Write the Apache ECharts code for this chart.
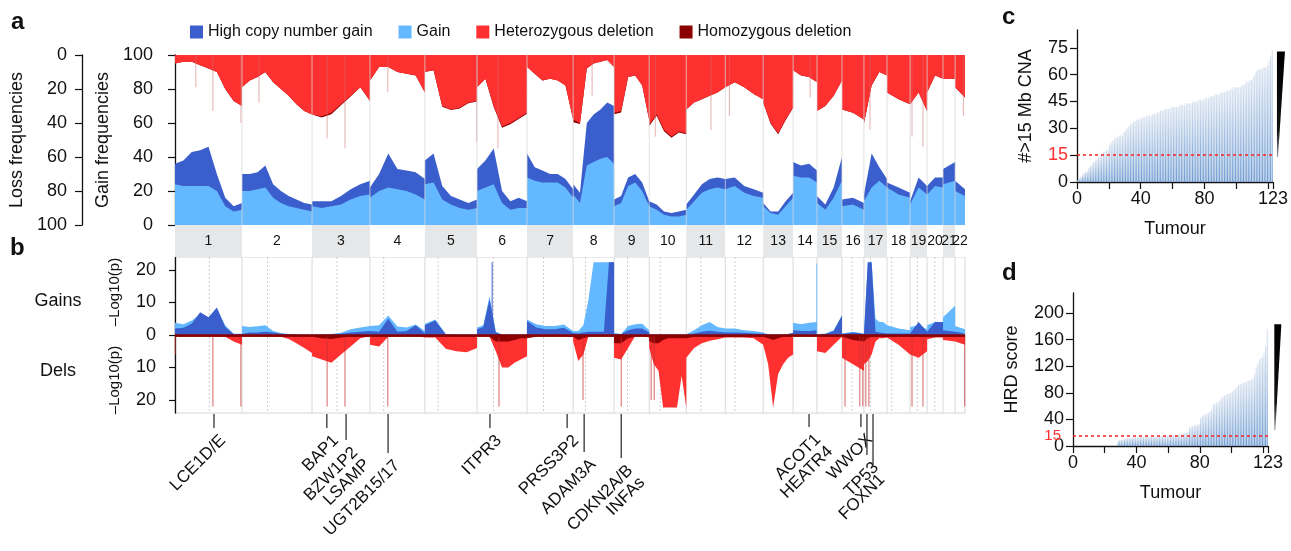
<!DOCTYPE html>
<html><head><meta charset="utf-8">
<script src="https://cdn.jsdelivr.net/npm/echarts@6/dist/echarts.min.js"></script>
<style>html,body{margin:0;padding:0;background:#fff}#c{width:1291px;height:551px}</style>
</head><body><div id="c"></div>
<script>
const FONT = '"Liberation Sans", Arial, Helvetica, sans-serif';
const chromosomes = ['1','2','3','4','5','6','7','8','9','10','11','12','13','14','15','16','17','18','19','20','21','22'];
const chrLen = [244,255,211,200,190,182,168,149,128,135,142,138,109,87,91,80,84,84,62,58,44,36];
const centromere = [125,93,91,50,48,60,60,45,49,40,53,35,null,null,null,36,24,17,26.5,28,null,null];

// ---- panel a: frequencies (%) per chromosome, evenly spaced along each chromosome
// top edge of light-blue (gain) and of dark-blue (all gains incl. high copy number gain)
const gainFreq = [[24,23,23,23,23,20,11,8,9],[20,20,21,22,16,13,11,10,9,8],[11,10,11,12,15,17,18],[16,20,22,21,20,18,15],[24,25,15,12,10,9,10],[20,22,24,13,9,10,10],[28,26,25,25,25,22,16],[18,13,35,37,39,40,36],[11,13,23,25,20,11],[11,9,6,5,5,6],[9,14,19,21,22,21],[21,23,19,17,16],[11,7,6,11,16],[29,28,28,25],[13,9,16,26],[11,12,9],[14,22,26,22],[21,18,16],[12,22,18],[17,23,22],[24,26],[20,17]];
const allGainFreq = [[36,38,43,44,46,30,16,11,13],[30,30,31,35,24,20,17,15,13,12],[14,14,14,17,21,24,26],[22,30,42,33,32,31,27],[38,42,23,17,15,13,15],[33,38,45,20,14,16,14],[42,34,32,30,30,27,21],[24,19,60,65,68,72,70],[15,17,28,30,25,14],[13,12,8,7,8,9],[12,18,24,27,28,27],[27,28,23,21,19],[13,8,8,14,19],[37,35,36,32],[17,12,22,40],[15,16,13],[18,42,34,27],[25,22,19],[14,28,23],[23,28,28],[33,37],[26,21]];
// bottom edge of red (heterozygous) and of dark red (all losses incl. homozygous deletion), loss axis counted from top
const hetDelFreq = [[5,4,4,6,8,10,20,27,30],[19,15,13,10,16,20,24,29,33,35],[34,36,34,29,24,19,27],[15,7,7,10,11,12,22],[10,9,30,32,31,28,27],[19,14,30,42,40,37,34],[7,11,15,14,15,18,38],[39,40,8,5,4,3,7],[34,33,13,12,18,38],[41,35,44,48,45,46],[32,28,26,24,22,19],[19,16,19,23,26],[28,40,46,38,31],[9,12,13,16],[33,30,24,15],[32,34,38],[40,18,10,12],[22,26,29],[30,22,33],[22,12,14],[13,14],[19,25]];
const allLossFreq = [[5,4,4,6,8,10,20,27,30],[19,15,13,10,16,20,24,29,33,35],[34.8,36.8,34.8,29.6,24.4,19,27],[15,7,7,10,11,12,22],[10,9,30.4,32.4,31.4,28.4,27.4],[19,14,30.6,42.8,40.8,37.6,34.5],[7,11,15,14,15,18,38],[39.6,40.6,8,5,4,3,7],[34.8,33.8,13,12,18,38.6],[41.8,35.8,44.8,48.7,45.6,46.6],[32,28,26,24,22,19],[19,16,19,23,26],[28,40.4,46.6,38.4,31],[9,12,13,16],[33,30,24,15],[32,34,38],[40.5,18,10,12],[22,26,29],[30,22,33],[22,12,14],[13,14],[19,25]];
// narrow loss peaks (faint lines in panel a): chromosome, Mb, loss %
const lossPeakChr = [1,1,1,2,3,3,4,5,6,8,10,11,12,14,17,19,19,22];
const lossPeakMb = [76,138,240,62,55,120,65,189,76,69,22,90,15,62,22,7,47,30];
const lossPeakPct = [19,33,40,28,49,55,22,51,55,24,48,44,36,25,44,48,54,36];

// ---- panel b: -log10(p)
const gainSig = [[3.8,3.3,4.5,6.5,5.5,8,3,0.4,0.4],[2.8,2.5,2.7,3,1.2,0.6,0.3,0.2,0.2,0.2],[0.2,0.2,0.3,0.7,1.8,2.3,2.8],[2.8,3,6,2.6,2.3,3.2,1.2],[3.5,4.8,0.3,0.2,0.2,0.2],[2.3,3,12,1,0.2,0.2,0.2,0.2,0.2],[4.8,3.3,2.8,2.8,3.2,1.2],[0.8,1.2,3,11,22.4,22.4,22.4,22.4,22.4],[0.7,0.3,2.8,3.3,3.5,1.5],[0.2,0.2,0.2,0.2,0.2,0.2,0.2,0.2,0.2],[0.2,1.5,3,4,2.5,2],[1.8,2,1.5,1.2,0.8],[0.2,0.2,0.2,0.2,0.2,0.3,0.7],[3.8,3.3,3.8,4],[0.2,0.5,1.5,6],[0.5,1,0.5],[0.5,22.4,22.4,5,4,4,3],[3,2,1.5],[2.5,3,1.8],[3,4,4],[5.5,9],[2.8,1.8]];
const highGainSig = [[2,2.2,3.5,7,5.5,8.5,2.5,0.3,0.3],[0.8,0.8,0.8,1,0.8,0.4,0.2,0.1,0.1,0.1],[0.1,0.1,0.2,0.4,0.8,1,1.2],[0.8,1,5,1,1.2,3,0.5],[3,4.5,0.2,0.1,0.1,0.1],[1.8,2.5,11,0.8,0.1,0.1,0.1,0.1,0.1],[4.3,2.3,1.8,1.8,2.2,0.6],[0.3,0.5,0.8,1,1,1,1,22.4,22.4],[0.3,0.2,1.5,2,2,0.8],[0.1,0.1,0.1,0.1,0.1,0.1,0.1,0.1,0.1],[0.1,0.5,1,1.3,1,0.8],[0.8,0.8,0.7,0.5,0.4],[0.1,0.1,0.1,0.1,0.1,0.3,0.6],[1.5,1.2,1.2,1.5],[0.1,0.3,1.2,6],[0.3,0.8,0.3],[0.3,22.4,22.4,1,0.8,0.6,0.5],[0.5,0.5,0.5],[1,4,1],[1.5,4,4],[1.5,1],[0.8,0.5]];
const delSig = [[0.3,0.3,0.3,0.3,0.3,0.3,0.5,2,3],[0.3,0.3,0.3,0.3,0.3,0.5,1.2,2.5,4,5.5],[6.5,7.5,8.5,6,3.5,1,0.4],[3,3.5,0.5,0.3,0.3,0.3,0.8],[0.3,0.8,4.2,5,5.3,4],[0.3,0.3,0.5,5,10,10,8.5,7.5,6.5],[0.3,0.3,0.3,0.3,0.3,0.5],[2,8,6,0.3,0.3,0.3,0.3,0.3,0.3],[7,7.5,4,0.3,0.3,0.8],[4,9,11,22.3,22.3,22.3,22.3,12.5,22.3],[7,4,2.5,1.8,1.3,0.8],[0.8,0.8,0.8,1,3],[3,9,22.3,12,9,7,6],[0.3,0.3,0.3,0.5],[5,5.5,3,0.5],[7,9,11],[9,8,6,2,1,1,0.8],[1.3,3,6],[6,7,5],[1.3,0.8,0.8],[1.5,2],[2,3]];
const homDelSig = [[0.5,0.5,0.5,0.5,0.5,0.5,0.5,0.5,0.5],[0.5,0.5,0.5,0.5,0.5,0.5,0.5,0.5,0.5,0.5],[1,1,1.2,0.8,0.5,0.5,0.5],[0.5,0.5,0.5,0.5,0.5,0.5,0.5],[0.5,0.5,0.5,0.5,0.5,0.5],[0.5,0.5,0.5,2,2,2,1.5,1,1],[0.5,0.5,0.5,0.5,0.5,0.5],[0.5,1.5,1,0.5,0.5,0.5,0.5,0.5,0.5],[2.5,2.5,1,0.5,0.5,0.5],[2,2.5,2.5,1.5,1,1,1,1,1],[1,0.5,0.5,0.5,0.5,0.5],[0.5,0.5,0.5,0.5,0.5],[0.5,1,1.5,1,0.5,0.5,0.5],[0.5,0.5,0.5,0.5],[0.5,0.5,0.5,0.5],[1,1.5,2],[2,1,0.5,0.5,0.5,0.5,0.5],[0.5,0.5,0.5],[0.5,0.5,0.5],[0.5,0.5,0.5],[0.5,0.5],[0.5,0.5]];
const delSpikeChr = [1,1,1,3,3,4,6,8,9,10,10,16,16,16,17,17,19,19,22];
const delSpikeMb = [1,138,240,55,120,65,80,36,26,7,18,11,65,76,7,18,7,47,35];
const delSpikeDepth = [6,22,22,22,22,22,22,20,22,20,20,22,22,22,22,22,22,22,22];
const gainSpikeChr = [6,14];
const gainSpikeMb = [55,86];
const gainSpikeVal = [22.4,22];
const gainSpikeHigh = [1,0]; // 1 = high copy number gain peak

// genes
const geneNames = ['LCE1D/E','BAP1','BZW1P2\nLSAMP','UGT2B15/17','ITPR3','PRSS3P2','ADAM3A','CDKN2A/B\nINFAs','ACOT1\nHEATR4','WWOX','TP53','FOXN1'];
const geneChr = [1,3,3,4,6,7,8,9,14,16,17,17];
const geneMb = [142,54,124,66,47,146,40,26,58,69,11,33];
const geneTick = [15,15,27,40,15,15,39,45,14,14,42,54]; // layout: tick lengths (px)

// ---- panels c, d (sorted per tumour)
const tumourCNA = [1,2,3,4,5,6,6,8,9,10,11,12,13,14,15,16,17,17,18,18,21,22,23,24,25,25,26,26,26,28,29,30,31,32,33,34,34,35,35,35,36,36,36,37,37,37,37,38,38,38,39,39,40,40,40,41,41,41,41,42,42,42,42,42,43,43,43,43,44,44,44,44,45,45,45,45,46,46,46,46,47,47,47,48,48,48,49,49,49,49,50,50,50,51,51,51,52,52,53,53,53,53,53,54,54,55,56,56,57,57,58,60,62,63,63,63,64,64,64,65,68,70,74];
const tumourHRD = [0,0,0,0,0,0,0,0,0,0,0,0,0,0,0,0,0,0,0,0,0,0,0,0,0,0,0,0,8,9,9,10,11,11,12,12,12,13,13,13,13,13,14,14,14,14,14,14,14,14,14,14,14,14,15,15,15,15,15,15,15,15,16,16,16,17,17,18,18,19,20,20,21,28,29,30,31,32,32,33,42,45,47,48,49,50,52,55,62,64,65,66,68,72,74,76,77,78,79,80,82,84,86,89,92,93,94,95,96,97,98,99,100,101,108,118,124,130,132,134,140,150,176];
const wedgeC = [125.5, 73, 14];
const wedgeD = [127, 183, 24];

const BLUE_D = '#3A5FCD', BLUE_L = '#63B8FF', RED = '#FF3030', DRED = '#8B0000';
const chrStart = []; let acc = 0; chrLen.forEach(l => { chrStart.push(acc); acc += l; }); const genomeLen = acc;
function track(arrs, sign) {
  const out = [];
  arrs.forEach((a, c) => { const n = a.length; a.forEach((v, i) => out.push([chrStart[c] + (n > 1 ? i * chrLen[c] / (n - 1) : chrLen[c] / 2), sign * v])); });
  return out;
}
function area(name, data, color, xi, yi, extra) {
  return Object.assign({type:'line', name, data, xAxisIndex:xi, yAxisIndex:yi, symbol:'none', showSymbol:false, color,
    itemStyle:{color}, lineStyle:{width:0, color}, areaStyle:{color, opacity:1}, animation:false, silent:true}, extra || {});
}
const txt = {color:'#111', fontFamily:FONT};
const axisCommon = {axisLine:{show:true, lineStyle:{color:'#111', width:1.3}}, axisTick:{show:true, length:7, lineStyle:{color:'#111', width:1.2}}, splitLine:{show:false}};
const boundaries = chrStart.slice(1);
const barGrad = () => new echarts.graphic.LinearGradient(0, 0, 0, 1, [{offset:0, color:'#d9e3f0'}, {offset:1, color:'#6d9ad1'}]);
const wedgeGrad = () => new echarts.graphic.LinearGradient(0, 0, 0, 1, [{offset:0, color:'#000'}, {offset:0.75, color:'#111'}, {offset:1, color:'#999'}]);

const chart = echarts.init(document.getElementById('c'), null, {renderer:'canvas'});
const option = {
  animation:false,
  textStyle:{fontFamily:FONT},
  legend:{left:185, top:19, itemWidth:13, itemHeight:13, itemGap:26, icon:'rect', selectedMode:false,
    textStyle:{fontSize:16, color:'#111', fontFamily:FONT}, data:['High copy number gain','Gain','Heterozygous deletion','Homozygous deletion']},
  grid:[
    {left:175, top:55, width:790, height:170},
    {left:175, top:225, width:790, height:32},
    {left:175, top:257, width:790, height:156, show:true, borderColor:'#d6d6d6', borderWidth:1},
    {left:1077, top:30, width:196, height:152},
    {left:1073, top:293, width:195, height:153}
  ],
  xAxis:[
    {gridIndex:0, type:'value', min:0, max:genomeLen, show:false},
    {gridIndex:1, type:'value', min:0, max:genomeLen, show:false},
    {gridIndex:2, type:'value', min:0, max:genomeLen, show:false},
    Object.assign({gridIndex:3, type:'value', min:0, max:123, interval:20, name:'Tumour', nameLocation:'middle', nameGap:38,
      nameTextStyle:Object.assign({fontSize:18}, txt),
      axisLabel:Object.assign({fontSize:18, margin:8, showMaxLabel:true, formatter:v => (v===0||v===40||v===80||v===123) ? String(v) : ''}, txt)}, axisCommon),
    Object.assign({gridIndex:4, type:'value', min:0, max:123, interval:20, name:'Tumour', nameLocation:'middle', nameGap:38,
      nameTextStyle:Object.assign({fontSize:18}, txt),
      axisLabel:Object.assign({fontSize:18, margin:8, showMaxLabel:true, formatter:v => (v===0||v===40||v===80||v===123) ? String(v) : ''}, txt)}, axisCommon)
  ],
  yAxis:[
    Object.assign({gridIndex:0, type:'value', min:0, max:100, interval:20, position:'left', offset:11, name:'Gain frequencies',
      nameLocation:'middle', nameGap:48, nameTextStyle:Object.assign({fontSize:18}, txt), axisLabel:Object.assign({fontSize:18, margin:11}, txt)}, axisCommon),
    Object.assign({gridIndex:0, type:'value', min:0, max:100, interval:20, inverse:true, position:'left', offset:93, name:'Loss frequencies',
      nameLocation:'middle', nameGap:52, nameTextStyle:Object.assign({fontSize:18}, txt), axisLabel:Object.assign({fontSize:18, margin:15}, txt)}, axisCommon),
    {gridIndex:1, type:'value', min:0, max:1, show:false},
    Object.assign({gridIndex:2, type:'value', min:-24, max:24, position:'left', offset:7,
      axisLabel:Object.assign({fontSize:18, margin:12, customValues:[-20,-10,0,10,20], formatter:v => String(Math.abs(v))}, txt)},
      axisCommon, {axisTick:{show:true, length:6, customValues:[-20,-10,0,10,20], lineStyle:{color:'#111', width:1.2}}}),
    Object.assign({gridIndex:3, type:'value', min:0, max:85, interval:15, name:'#>15 Mb CNA', nameLocation:'middle', nameGap:42,
      nameTextStyle:Object.assign({fontSize:18}, txt),
      axisLabel:{fontSize:18, margin:9, fontFamily:FONT, showMaxLabel:false, color:v => (+v === 15 ? RED : '#111')}}, axisCommon),
    Object.assign({gridIndex:4, type:'value', min:0, max:230, interval:40, name:'HRD score', nameLocation:'middle', nameGap:52,
      nameTextStyle:Object.assign({fontSize:18}, txt),
      axisLabel:Object.assign({fontSize:18, margin:9, showMaxLabel:false}, txt)}, axisCommon)
  ],
  series:[
    // panel a (upper edge drawn first, lower edge painted over it)
    area('High copy number gain', track(allGainFreq, 1), BLUE_D, 0, 0, {z:2}),
    area('Gain', track(gainFreq, 1), BLUE_L, 0, 0, {z:3}),
    area('Homozygous deletion', track(allLossFreq, 1), DRED, 0, 1, {z:2}),
    area('Heterozygous deletion', track(hetDelFreq, 1), RED, 0, 1, {z:3}),
    {type:'custom', name:'lossPeaks', xAxisIndex:0, yAxisIndex:1, z:4, silent:true,
      data:lossPeakChr.map((c, i) => [chrStart[c-1] + lossPeakMb[i], lossPeakPct[i]]),
      renderItem:(p, api) => { const t = api.coord([api.value(0), 0]); const b = api.coord([api.value(0), api.value(1)]);
        return {type:'line', shape:{x1:t[0], y1:t[1], x2:b[0], y2:b[1]}, style:{stroke:'rgba(205,110,110,0.55)', lineWidth:1}}; }},
    {type:'custom', name:'bndA', xAxisIndex:0, yAxisIndex:0, z:5, silent:true, data:boundaries.map(b => [b]),
      renderItem:(p, api) => { const t = api.coord([api.value(0), 100]); const b = api.coord([api.value(0), 0]);
        return {type:'line', shape:{x1:t[0], y1:t[1], x2:b[0], y2:b[1]}, style:{stroke:'rgba(215,215,215,0.75)', lineWidth:1}}; }},
    // chromosome band
    {type:'custom', name:'band', xAxisIndex:1, yAxisIndex:2, silent:true, data:chromosomes.map((c, i) => [chrStart[i], chrStart[i] + chrLen[i], i]),
      renderItem:(p, api) => { const s = api.coord([api.value(0), 1]); const e = api.coord([api.value(1), 0]); const i = api.value(2);
        return {type:'group', children:[
          {type:'rect', shape:{x:s[0], y:s[1], width:e[0]-s[0], height:e[1]-s[1]}, style:{fill: i % 2 === 0 ? '#e6e7e8' : '#ffffff'}},
          {type:'text', x:(s[0]+e[0])/2, y:(s[1]+e[1])/2, style:{text:chromosomes[i], fill:'#111', font:'14px ' + FONT, align:'center', verticalAlign:'middle'}}]}; }},
    // panel b background lines
    {type:'custom', name:'bndB', xAxisIndex:2, yAxisIndex:3, z:1, silent:true, data:boundaries.map(b => [b, 0]).concat(centromere.map((c, i) => c === null ? null : [chrStart[i] + c, 1]).filter(d => d)),
      renderItem:(p, api) => { const t = api.coord([api.value(0), 24]); const b = api.coord([api.value(0), -24]); const dashed = api.value(1) === 1;
        return {type:'line', shape:{x1:t[0], y1:t[1], x2:b[0], y2:b[1]}, style:{stroke: dashed ? '#cfcfcf' : '#d9d9d9', lineWidth:1, lineDash: dashed ? [2,2] : null}}; }},
    area('gainB', track(gainSig, 1), BLUE_L, 2, 3, {z:2}),
    area('highGainB', track(highGainSig, 1), BLUE_D, 2, 3, {z:3}),
    area('delB', track(delSig, -1), RED, 2, 3, {z:2}),
    area('homDelB', track(homDelSig, -1), DRED, 2, 3, {z:3,
      markLine:{silent:true, symbol:'none', label:{show:false}, data:[{yAxis:0}], lineStyle:{color:DRED, width:2.5, type:'solid'}}}),
    {type:'custom', name:'spikes', xAxisIndex:2, yAxisIndex:3, z:4, silent:true,
      data:delSpikeChr.map((c, i) => [chrStart[c-1] + delSpikeMb[i], -delSpikeDepth[i], 0]).concat(gainSpikeChr.map((c, i) => [chrStart[c-1] + gainSpikeMb[i], gainSpikeVal[i], gainSpikeHigh[i] ? 2 : 1])),
      renderItem:(p, api) => { const a = api.coord([api.value(0), 0]); const b = api.coord([api.value(0), api.value(1)]); const k = api.value(2);
        const stroke = k === 2 ? BLUE_D : k === 1 ? 'rgba(99,184,255,0.8)' : 'rgba(200,50,50,0.75)';
        return {type:'line', shape:{x1:a[0], y1:a[1], x2:b[0], y2:b[1]}, style:{stroke, lineWidth:1}}; }},
    // gene labels
    {type:'custom', name:'genes', xAxisIndex:2, yAxisIndex:3, z:6, silent:true, clip:false,
      data:geneNames.map((g, i) => [chrStart[geneChr[i]-1] + geneMb[i], i]),
      renderItem:(p, api) => { const i = api.value(1); const base = api.coord([api.value(0), -24]); const len = geneTick[i];
        return {type:'group', children:[
          {type:'line', shape:{x1:base[0], y1:base[1]+1, x2:base[0], y2:base[1]+len}, style:{stroke:'#222', lineWidth:1.2}},
          {type:'text', x:base[0]+3, y:base[1]+len+4, rotation:Math.PI/4,
            style:{text:geneNames[i], fill:'#111', font:'17px ' + FONT, align:'right', verticalAlign:'top', lineHeight:17}}]}; }},
    // panel c
    {type:'bar', name:'cna', xAxisIndex:3, yAxisIndex:4, barWidth:1.1, silent:true, z:2,
      data:tumourCNA.map((v, i) => [i + 0.5, v]), itemStyle:{color:barGrad()},
      markLine:{silent:true, z:10, symbol:'none', label:{show:false}, data:[{yAxis:15}], lineStyle:{color:'#ff2020', type:[3,3], width:1.5}}},
    {type:'custom', name:'wedgeC', xAxisIndex:3, yAxisIndex:4, clip:false, silent:true, data:[wedgeC],
      renderItem:(p, api) => { const t = api.coord([api.value(0), api.value(1)]); const b = api.coord([api.value(0), api.value(2)]);
        return {type:'polygon', shape:{points:[[t[0], t[1]], [t[0]+8, t[1]], [b[0]+1, b[1]], [b[0], b[1]]]}, style:{fill:wedgeGrad()}}; }},
    // panel d
    {type:'bar', name:'hrd', xAxisIndex:4, yAxisIndex:5, barWidth:1.1, silent:true, z:2,
      data:tumourHRD.map((v, i) => [i + 0.5, v]), itemStyle:{color:barGrad()},
      markLine:{silent:true, z:10, symbol:'none', data:[{yAxis:15}], lineStyle:{color:'#ff2020', type:[3,3], width:1.5},
        label:{show:true, position:'start', formatter:'15', color:RED, fontSize:15, fontFamily:FONT, distance:12}}},
    {type:'custom', name:'wedgeD', xAxisIndex:4, yAxisIndex:5, clip:false, silent:true, data:[wedgeD],
      renderItem:(p, api) => { const t = api.coord([api.value(0), api.value(1)]); const b = api.coord([api.value(0), api.value(2)]);
        return {type:'polygon', shape:{points:[[t[0], t[1]], [t[0]+7, t[1]], [b[0]+1, b[1]], [b[0], b[1]]]}, style:{fill:wedgeGrad()}}; }}
  ],
  graphic:[
    {type:'text', left:11, top:10, style:{text:'a', font:'bold 24px ' + FONT, fill:'#111'}},
    {type:'text', left:10, top:236, style:{text:'b', font:'bold 24px ' + FONT, fill:'#111'}},
    {type:'text', left:1002, top:5, style:{text:'c', font:'bold 24px ' + FONT, fill:'#111'}},
    {type:'text', left:1002, top:261, style:{text:'d', font:'bold 24px ' + FONT, fill:'#111'}},
    {type:'text', x:58, y:301, style:{text:'Gains', font:'18px ' + FONT, fill:'#111', align:'center', verticalAlign:'middle'}},
    {type:'text', x:58, y:371, style:{text:'Dels', font:'18px ' + FONT, fill:'#111', align:'center', verticalAlign:'middle'}},
    {type:'text', x:115, y:292, rotation:Math.PI/2, style:{text:'–Log10(p)', font:'15px ' + FONT, fill:'#111', align:'center', verticalAlign:'middle'}},
    {type:'text', x:115, y:380, rotation:Math.PI/2, style:{text:'–Log10(p)', font:'15px ' + FONT, fill:'#111', align:'center', verticalAlign:'middle'}}
  ]
};
chart.setOption(option);
</script></body></html>
